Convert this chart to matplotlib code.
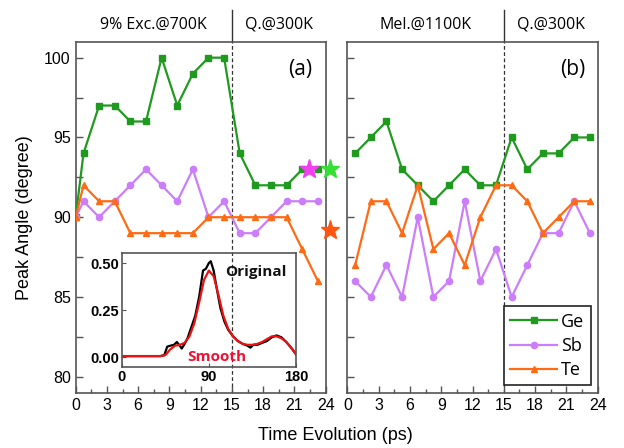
import numpy as np
import matplotlib
matplotlib.use('Agg')
import matplotlib.pyplot as plt
from matplotlib.ticker import MultipleLocator

plt.rcParams['font.family'] = ['Liberation Sans', 'DejaVu Sans']

# time axis (ps)
t_a = [0, 0.75, 2.25, 3.75, 5.25, 6.75, 8.25, 9.75, 11.25, 12.75, 14.25,
       15.75, 17.25, 18.75, 20.25, 21.75, 23.25]
t_b = t_a[1:]

# panel (a): 9% excitation at 700K then quench
ge_a = [90, 94, 97, 97, 96, 96, 100, 97, 99, 100, 100, 94, 92, 92, 92, 93, 93]
sb_a = [90, 91, 90, 91, 92, 93, 92, 91, 93, 90, 91, 89, 89, 90, 91, 91, 91]
te_a = [90, 92, 91, 91, 89, 89, 89, 89, 89, 90, 90, 90, 90, 90, 90, 88, 86]

# panel (b): melt at 1100K then quench
ge_b = [94, 95, 96, 93, 92, 91, 92, 93, 92, 92, 95, 93, 94, 94, 95, 95]
sb_b = [86, 85, 87, 85, 90, 85, 86, 91, 86, 88, 85, 87, 89, 89, 91, 89]
te_b = [87, 91, 91, 89, 92, 88, 89, 87, 90, 92, 92, 91, 89, 90, 91, 91]

# reference stars (crystal values) in panel (a)
star_x = [22.4, 24.45, 24.45]
star_y = [93, 93, 89.2]
star_c = ['#f040f0', '#33e033', '#ff5510']

# inset: angle distribution
ang_orig = [0, 10, 20, 30, 40, 44, 47, 50, 54, 57, 60, 62, 65, 68, 72, 76, 80,
            84, 87, 90, 92, 95, 98, 102, 106, 110, 115, 120, 125, 130, 133,
            136, 140, 145, 150, 155, 160, 165, 170, 175, 180]
val_orig = [0.005, 0.005, 0.005, 0.005, 0.005, 0.01, 0.055, 0.06, 0.065, 0.08,
            0.06, 0.045, 0.07, 0.1, 0.16, 0.22, 0.32, 0.46, 0.47, 0.5, 0.51,
            0.46, 0.37, 0.26, 0.19, 0.145, 0.11, 0.085, 0.07, 0.06, 0.05,
            0.065, 0.065, 0.075, 0.085, 0.105, 0.115, 0.105, 0.08, 0.05, 0.015]
ang_smooth = [0, 10, 20, 30, 40, 45, 50, 55, 60, 65, 70, 75, 80, 85, 90, 95,
              100, 105, 110, 115, 120, 125, 130, 135, 140, 145, 150, 155, 160,
              165, 170, 175, 180]
val_smooth = [0.005, 0.005, 0.005, 0.005, 0.005, 0.01, 0.04, 0.06, 0.065,
              0.075, 0.11, 0.18, 0.29, 0.41, 0.46, 0.43, 0.33, 0.22, 0.15,
              0.11, 0.085, 0.07, 0.065, 0.065, 0.07, 0.08, 0.095, 0.11, 0.11,
              0.1, 0.08, 0.05, 0.015]

c_ge, c_sb, c_te = '#1f9a1f', '#cc7dfa', '#ff6a14'
spine_c = '#555555'

fig = plt.figure(figsize=(6.24, 4.48), dpi=100)
ax_a = fig.add_axes([0.1213, 0.1234, 0.4006, 0.7835])
ax_b = fig.add_axes([0.5566, 0.1234, 0.4013, 0.7835])

def style(ax, headers):
    ax.set_xlim(0, 24)
    ax.set_ylim(79, 101)
    ax.xaxis.set_major_locator(MultipleLocator(3))
    ax.xaxis.set_minor_locator(MultipleLocator(1.5))
    ax.yaxis.set_major_locator(MultipleLocator(5))
    ax.yaxis.set_minor_locator(MultipleLocator(2.5))
    ax.tick_params(which='both', direction='in', top=False, right=False,
                   color=spine_c, labelsize=11.5, width=1)
    ax.tick_params(which='major', length=5)
    ax.tick_params(which='minor', length=3)
    ax.tick_params(axis='y', which='minor', length=5)
    for s in ax.spines.values():
        s.set_color(spine_c)
        s.set_linewidth(1.2)
    ax.axvline(15, color='#333333', lw=0.9, ls=(0, (3, 2)), zorder=1)
    ax.plot([15, 15], [1.0, 1.09], color='#333333', lw=1,
            transform=ax.get_xaxis_transform(), clip_on=False)
    for xc, txt in headers:
        ax.text(xc, 1.048, txt, transform=ax.get_xaxis_transform(),
                ha='center', va='center', fontsize=11.5, family='Open Sans')

def series(ax, t, ge, sb, te):
    kw = dict(lw=1.6, ms=4.5, zorder=3)
    ax.plot(t, ge, '-s', color=c_ge, label='Ge', **kw)
    ax.plot(t, sb, '-o', color=c_sb, label='Sb', **kw)
    ax.plot(t, te, '-^', color=c_te, label='Te', **kw)

series(ax_a, t_a, ge_a, sb_a, te_a)
series(ax_b, t_b, ge_b, sb_b, te_b)
style(ax_a, [(7.5, '9% Exc.@700K'), (19.5, 'Q.@300K')])
style(ax_b, [(7.5, 'Mel.@1100K'), (19.5, 'Q.@300K')])
ax_b.tick_params(labelleft=False)

for x, y, c in zip(star_x, star_y, star_c):
    ax_a.plot(x, y, '*', color=c, ms=14, mec=c, clip_on=False, zorder=5)

ax_a.text(0.9, 0.92, '(a)', transform=ax_a.transAxes, ha='center',
          va='center', fontsize=15, family='Open Sans')
ax_b.text(0.9, 0.92, '(b)', transform=ax_b.transAxes, ha='center',
          va='center', fontsize=15, family='Open Sans')

ax_a.set_ylabel('Peak Angle (degree)', fontsize=13, labelpad=8)
fig.text(0.538, 0.018, 'Time Evolution (ps)', ha='center', fontsize=13)

leg = ax_b.legend(loc='lower right', frameon=True, fancybox=False,
                  handlelength=2.6, borderaxespad=0.4,
                  labelspacing=0.35, handletextpad=0.2, borderpad=0.35,
                  prop={'family': 'Open Sans', 'size': 13})
leg.get_frame().set_edgecolor('#222222')
leg.get_frame().set_linewidth(1.2)
leg.get_frame().set_alpha(1)

# inset
ax_in = fig.add_axes([0.195, 0.180, 0.2793, 0.2558])
ax_in.set_facecolor('none')
ax_in.plot(ang_orig, val_orig, color='black', lw=1.6)
ax_in.plot(ang_smooth, val_smooth, color='#ee1111', lw=1.6)
ax_in.set_xlim(0, 180)
ax_in.set_ylim(-0.055, 0.555)
ax_in.set_xticks([0, 90, 180])
ax_in.set_yticks([0, 0.25, 0.5])
ax_in.set_yticklabels(['0.00', '0.25', '0.50'])
ax_in.tick_params(direction='in', length=3, labelsize=10.5, pad=2, color=spine_c)
for lab in ax_in.get_xticklabels() + ax_in.get_yticklabels():
    lab.set_fontweight('bold')
for s in ax_in.spines.values():
    s.set_color(spine_c)
    s.set_linewidth(1.2)
ax_in.text(139, 0.45, 'Original', ha='center', va='center', fontsize=11,
           fontweight='bold', family='Open Sans', color='#111111')
ax_in.text(98, 0.0, 'Smooth', ha='center', va='center', fontsize=11,
           fontweight='bold', family='Open Sans', color='#ee1133')

fig.savefig('out.png', dpi=100)
